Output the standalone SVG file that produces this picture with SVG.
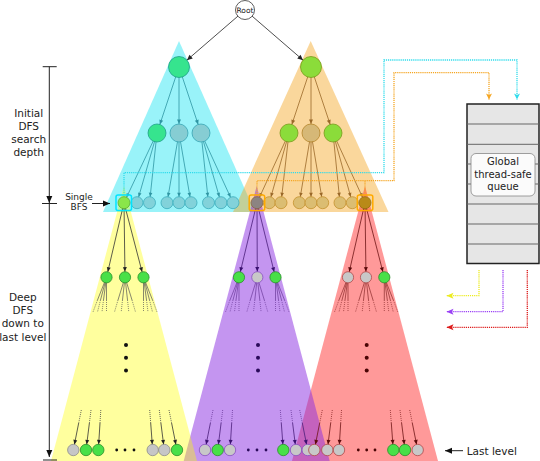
<svg xmlns="http://www.w3.org/2000/svg" width="540" height="461" viewBox="0 0 540 461">
<style>
text{font-family:"DejaVu Sans","Liberation Sans",sans-serif;fill:#222}
.lbl{font-size:10.5px;text-anchor:middle}
.sm{font-size:9px;text-anchor:middle}
.q{font-size:10px;text-anchor:middle}
g line,g path{fill:none}
.e{stroke-width:0.8}
.ek{stroke:#222;marker-end:url(#mK)}
.et{stroke:#2f95a3}
.et9{marker-end:url(#mT9)}
.et6{marker-end:url(#mT6)}
.eb{stroke:#9a6828}
.eb9{marker-end:url(#mB9)}
.eb6{marker-end:url(#mB6)}
.ey{stroke:#333;marker-end:url(#mY)}
.ep{stroke:#4a1e7a;marker-end:url(#mP)}
.er{stroke:#6e1515;marker-end:url(#mR)}
.fy{stroke:#555;stroke-width:0.7}
.fp{stroke:#6a3a9a;stroke-width:0.7}
.fr{stroke:#8a2a2a;stroke-width:0.7}
.dt{stroke-dasharray:1 1}
.dy{stroke:#444;stroke-width:0.8;stroke-dasharray:1 1}
.dp{stroke:#6a3a9a;stroke-width:0.8;stroke-dasharray:1 1}
.dr{stroke:#8a2a2a;stroke-width:0.8;stroke-dasharray:1 1}
.cn{stroke-width:1.3;stroke-dasharray:1.2 0.9}
circle{stroke-width:0.8}
.root{fill:#fff;stroke:#333}
.c1{fill:#36e48e;stroke:#1e9f88}
.c2{fill:#86cdd3;stroke:#38a5b4}
.o1{fill:#8bdc3a;stroke:#789a1c}
.o2{fill:#d6b877;stroke:#b4852c}
.c3{fill:#82d2da;stroke:#3cadbd}
.c3g{fill:#8ae64a;stroke:#5aae2e}
.o3{fill:#dbbd72;stroke:#c4922e}
.o3p{fill:#8c8482;stroke:#8a6440}
.o3d{fill:#b98a18;stroke:#956e0e}
.g{fill:#48e048;stroke:#2b8e2b}
.gy{fill:#c6c6c6;stroke:#8c8c8c}
.gp{fill:#c8c8c8;stroke:#8850c0}
.gr{fill:#c8c8c8;stroke:#b04a4a}
.sq{fill:none;stroke-width:1.5}
.tick{stroke:#222;stroke-width:1}
</style>
<defs>
<marker id="mK" markerUnits="userSpaceOnUse" orient="auto" overflow="visible" refX="16" refY="0" markerWidth="6" markerHeight="6"><path d="M0,-2.5L5.5,0L0,2.5z" fill="#222"/></marker>
<marker id="mT9" markerUnits="userSpaceOnUse" orient="auto" overflow="visible" refX="13.5" refY="0" markerWidth="5" markerHeight="5"><path d="M0,-2L4.5,0L0,2z" fill="#2f95a3"/></marker>
<marker id="mB9" markerUnits="userSpaceOnUse" orient="auto" overflow="visible" refX="13.5" refY="0" markerWidth="5" markerHeight="5"><path d="M0,-2L4.5,0L0,2z" fill="#9a6828"/></marker>
<marker id="mT6" markerUnits="userSpaceOnUse" orient="auto" overflow="visible" refX="10" refY="0" markerWidth="5" markerHeight="5"><path d="M0,-1.8L4,0L0,1.8z" fill="#2f95a3"/></marker>
<marker id="mB6" markerUnits="userSpaceOnUse" orient="auto" overflow="visible" refX="10" refY="0" markerWidth="5" markerHeight="5"><path d="M0,-1.8L4,0L0,1.8z" fill="#9a6828"/></marker>
<marker id="mY" markerUnits="userSpaceOnUse" orient="auto" overflow="visible" refX="10.2" refY="0" markerWidth="5" markerHeight="5"><path d="M0,-2L4.5,0L0,2z" fill="#222"/></marker>
<marker id="mP" markerUnits="userSpaceOnUse" orient="auto" overflow="visible" refX="10.2" refY="0" markerWidth="5" markerHeight="5"><path d="M0,-2L4.5,0L0,2z" fill="#3a1070"/></marker>
<marker id="mR" markerUnits="userSpaceOnUse" orient="auto" overflow="visible" refX="10.2" refY="0" markerWidth="5" markerHeight="5"><path d="M0,-2L4.5,0L0,2z" fill="#5a0a0a"/></marker>
<marker id="mS" markerUnits="userSpaceOnUse" orient="auto" overflow="visible" refX="7" refY="0" markerWidth="7" markerHeight="7"><path d="M0,-3L7,0L0,3z" fill="#111"/></marker>
<marker id="mCy" markerUnits="userSpaceOnUse" orient="auto" overflow="visible" refX="6" refY="0" markerWidth="7" markerHeight="7"><path d="M0,-3L6,0L0,3L1.5,0z" fill="#30dcec"/></marker>
<marker id="mOr" markerUnits="userSpaceOnUse" orient="auto" overflow="visible" refX="6" refY="0" markerWidth="7" markerHeight="7"><path d="M0,-3L6,0L0,3L1.5,0z" fill="#f5a623"/></marker>
<marker id="mYe" markerUnits="userSpaceOnUse" orient="auto" overflow="visible" refX="7" refY="0" markerWidth="7" markerHeight="7"><path d="M0,-3L7,0L0,3L1.5,0z" fill="#ecec20"/></marker>
<marker id="mPu" markerUnits="userSpaceOnUse" orient="auto" overflow="visible" refX="7" refY="0" markerWidth="7" markerHeight="7"><path d="M0,-3L7,0L0,3L1.5,0z" fill="#9a40f5"/></marker>
<marker id="mRe" markerUnits="userSpaceOnUse" orient="auto" overflow="visible" refX="7" refY="0" markerWidth="7" markerHeight="7"><path d="M0,-3L7,0L0,3L1.5,0z" fill="#dd1a1a"/></marker>
</defs>

<g id="regions">
<polygon points="179,41 103,212 255,212" fill="#00e0f0" fill-opacity="0.4"/>
<polygon points="310.7,41 233,212 388.5,212" fill="#f5a623" fill-opacity="0.45"/>
<polygon points="365,186 292,461 438,461" fill="#ff3333" fill-opacity="0.5"/>
<polygon points="256.7,186 183.7,461 329.7,461" fill="#8a2be2" fill-opacity="0.5"/>
<polygon points="124,186 51,461 197,461" fill="#ffff00" fill-opacity="0.38"/>
</g>

<g id="scale">
<line class="tick" x1="49.3" y1="66.7" x2="49.3" y2="203" marker-end="url(#mS)"/>
<line class="tick" x1="42.7" y1="66.7" x2="56.7" y2="66.7"/>
<line class="tick" x1="42" y1="203.5" x2="57" y2="203.5"/>
<line class="tick" x1="49.3" y1="203.5" x2="49.3" y2="457" marker-end="url(#mS)"/>
<line class="tick" x1="43" y1="460" x2="57" y2="460"/>
<line class="tick" x1="92" y1="203.5" x2="110" y2="203.5" marker-end="url(#mS)"/>
<line class="tick" x1="463" y1="450.7" x2="445" y2="450.7" marker-end="url(#mS)"/>
</g>

<g id="labels">
<text class="lbl" x="28.7" y="116.5">Initial</text>
<text class="lbl" x="28.7" y="129.8">DFS</text>
<text class="lbl" x="28.7" y="143.1">search</text>
<text class="lbl" x="28.7" y="156.4">depth</text>
<text class="sm" x="79" y="200">Single</text>
<text class="sm" x="79" y="210.3">BFS</text>
<text class="lbl" x="22.8" y="301">Deep</text>
<text class="lbl" x="22.8" y="314.2">DFS</text>
<text class="lbl" x="22.8" y="327.4">down to</text>
<text class="lbl" x="22.8" y="340.6">last level</text>
<text x="466.7" y="454.5" style="font-size:10.5px">Last level</text>
</g>

<g id="connectors">
<line class="e ek" x1="245" y1="10" x2="179" y2="67"/>
<line class="e ek" x1="245" y1="10" x2="311" y2="67"/>
<line class="e et et9" x1="179" y1="67" x2="157" y2="133"/>
<line class="e et et9" x1="179" y1="67" x2="179" y2="133"/>
<line class="e et et9" x1="179" y1="67" x2="201" y2="133"/>
<line class="e eb eb9" x1="311" y1="67" x2="289" y2="133"/>
<line class="e eb eb9" x1="311" y1="67" x2="311" y2="133"/>
<line class="e eb eb9" x1="311" y1="67" x2="333" y2="133"/>
<line class="e et et6" x1="157" y1="133" x2="124" y2="202.7"/>
<line class="e et et6" x1="157" y1="133" x2="137" y2="202.7"/>
<line class="e et et6" x1="157" y1="133" x2="149.5" y2="202.7"/>
<line class="e et et6" x1="179" y1="133" x2="167" y2="202.7"/>
<line class="e et et6" x1="179" y1="133" x2="179" y2="202.7"/>
<line class="e et et6" x1="179" y1="133" x2="191" y2="202.7"/>
<line class="e et et6" x1="201" y1="133" x2="208.5" y2="202.7"/>
<line class="e et et6" x1="201" y1="133" x2="221" y2="202.7"/>
<line class="e et et6" x1="201" y1="133" x2="233" y2="202.7"/>
<line class="e eb eb6" x1="289" y1="133" x2="257" y2="202.7"/>
<line class="e eb eb6" x1="289" y1="133" x2="269.3" y2="202.7"/>
<line class="e eb eb6" x1="289" y1="133" x2="281" y2="202.7"/>
<line class="e eb eb6" x1="311" y1="133" x2="299.3" y2="202.7"/>
<line class="e eb eb6" x1="311" y1="133" x2="311" y2="202.7"/>
<line class="e eb eb6" x1="311" y1="133" x2="322.7" y2="202.7"/>
<line class="e eb eb6" x1="333" y1="133" x2="340" y2="202.7"/>
<line class="e eb eb6" x1="333" y1="133" x2="352.3" y2="202.7"/>
<line class="e eb eb6" x1="333" y1="133" x2="365" y2="202.7"/>

<line class="e ey" x1="124" y1="202.7" x2="106.5" y2="277.3"/>
<line class="e ey" x1="124" y1="202.7" x2="125" y2="277.3"/>
<line class="e ey" x1="124" y1="202.7" x2="143.5" y2="277.3"/>
<line class="e ep" x1="257" y1="202.7" x2="239" y2="277.3"/>
<line class="e ep" x1="257" y1="202.7" x2="257.3" y2="277.3"/>
<line class="e ep" x1="257" y1="202.7" x2="275.5" y2="277.3"/>
<line class="e er" x1="365" y1="202.7" x2="348" y2="277.3"/>
<line class="e er" x1="365" y1="202.7" x2="366" y2="277.3"/>
<line class="e er" x1="365" y1="202.7" x2="384.3" y2="277.3"/>

<path class="fy" d="M106.5,277.3L97.5,300M106.5,277.3L100.5,300M106.5,277.3L103.5,300M106.5,277.3L106.5,300M125,277.3L118,300M125,277.3L122.5,300M125,277.3L127.5,300M125,277.3L132,300M143.5,277.3L143.5,300M143.5,277.3L146.5,300M143.5,277.3L149.5,300M143.5,277.3L152.5,300"/>
<path class="fy dt" d="M97.5,300L93,312M100.5,300L97.5,312M103.5,300L102,312M106.5,300L106.5,312M118,300L114.5,312M122.5,300L121.2,312M127.5,300L128.8,312M132,300L135.5,312M143.5,300L143.5,312M146.5,300L148,312M149.5,300L152.5,312M152.5,300L157,312"/>
<path class="fp" d="M239,277.3L230,300M239,277.3L233,300M239,277.3L236,300M239,277.3L239,300M257.3,277.3L250.3,300M257.3,277.3L254.8,300M257.3,277.3L259.8,300M257.3,277.3L264.3,300M275.5,277.3L275.5,300M275.5,277.3L278.5,300M275.5,277.3L281.5,300M275.5,277.3L284.5,300"/>
<path class="fp dt" d="M230,300L225.5,312M233,300L230,312M236,300L234.5,312M239,300L239,312M250.3,300L246.8,312M254.8,300L253.5,312M259.8,300L261.1,312M264.3,300L267.8,312M275.5,300L275.5,312M278.5,300L280,312M281.5,300L284.5,312M284.5,300L289,312"/>
<path class="fr" d="M348,277.3L339,300M348,277.3L342,300M348,277.3L345,300M348,277.3L348,300M366,277.3L359,300M366,277.3L363.5,300M366,277.3L368.5,300M366,277.3L373,300M384.3,277.3L384.3,300M384.3,277.3L387.3,300M384.3,277.3L390.3,300M384.3,277.3L393.3,300"/>
<path class="fr dt" d="M339,300L334.5,312M342,300L339,312M345,300L343.5,312M348,300L348,312M359,300L355.5,312M363.5,300L362.2,312M368.5,300L369.8,312M373,300L376.5,312M384.3,300L384.3,312M387.3,300L388.8,312M390.3,300L393.3,312M393.3,300L397.8,312"/>

<path class="dy" d="M81.3,410L78.7,423M91,410L89.4,423M100.8,410L100,423M149.7,410L150.7,423M159.3,410L160.9,423M169,410L171.6,423"/>
<line class="e ey" x1="78.7" y1="423" x2="73.3" y2="450"/>
<line class="e ey" x1="89.4" y1="423" x2="86" y2="450"/>
<line class="e ey" x1="100" y1="423" x2="98.3" y2="450"/>
<line class="e ey" x1="150.7" y1="423" x2="152.7" y2="450"/>
<line class="e ey" x1="160.9" y1="423" x2="164.3" y2="450"/>
<line class="e ey" x1="171.6" y1="423" x2="177" y2="450"/>
<path class="dp" d="M213,410L210.4,423M222.7,410L221.1,423M232.5,410L231.7,423M280.3,410L281.3,423M291,410L292.6,423M299.7,410L302.3,423"/>
<line class="e ep" x1="210.4" y1="423" x2="205" y2="450"/>
<line class="e ep" x1="221.1" y1="423" x2="217.7" y2="450"/>
<line class="e ep" x1="231.7" y1="423" x2="230" y2="450"/>
<line class="e ep" x1="281.3" y1="423" x2="283.3" y2="450"/>
<line class="e ep" x1="292.6" y1="423" x2="296" y2="450"/>
<line class="e ep" x1="302.3" y1="423" x2="307.7" y2="450"/>
<path class="dr" d="M322.3,410L319.7,423M332.3,410L330.7,423M341.5,410L340.7,423M390.3,410L391.3,423M400,410L401.6,423M409.7,410L412.3,423"/>
<line class="e er" x1="319.7" y1="423" x2="314.3" y2="450"/>
<line class="e er" x1="330.7" y1="423" x2="327.3" y2="450"/>
<line class="e er" x1="340.7" y1="423" x2="339" y2="450"/>
<line class="e er" x1="391.3" y1="423" x2="393.3" y2="450"/>
<line class="e er" x1="401.6" y1="423" x2="405" y2="450"/>
<line class="e er" x1="412.3" y1="423" x2="417.7" y2="450"/>
</g>

<g id="ellipses">
<g fill="#111"><circle cx="126" cy="345" r="2"/><circle cx="126" cy="357.7" r="2"/><circle cx="126" cy="370.5" r="2"/>
<circle cx="116.7" cy="450" r="1.4"/><circle cx="125" cy="450" r="1.4"/><circle cx="134" cy="450" r="1.4"/></g>
<g fill="#2a0a5a"><circle cx="258" cy="345" r="2"/><circle cx="258" cy="357.7" r="2"/><circle cx="258" cy="370.5" r="2"/>
<circle cx="248.3" cy="450" r="1.4"/><circle cx="257" cy="450" r="1.4"/><circle cx="266" cy="450" r="1.4"/></g>
<g fill="#4a0505"><circle cx="366.7" cy="345" r="2"/><circle cx="366.7" cy="357.7" r="2"/><circle cx="366.7" cy="370.5" r="2"/>
<circle cx="358.3" cy="450" r="1.4"/><circle cx="366.7" cy="450" r="1.4"/><circle cx="375" cy="450" r="1.4"/></g>
</g>

<g id="nodes">
<g id="root"><circle class="root" cx="245" cy="10" r="9.5"/><text x="245" y="12.7" style="font-size:7.5px;text-anchor:middle">Root</text></g>
<g id="a"><circle class="c1" cx="179" cy="67" r="10.5"/></g>
<g id="b"><circle class="o1" cx="311" cy="67" r="10.5"/></g>
<g id="a1"><circle class="c1" cx="157" cy="133" r="9"/></g>
<g id="a2"><circle class="c2" cx="179" cy="133" r="9"/></g>
<g id="a3"><circle class="c2" cx="201" cy="133" r="9"/></g>
<g id="b1"><circle class="o1" cx="289" cy="133" r="9"/></g>
<g id="b2"><circle class="o2" cx="311" cy="133" r="9"/></g>
<g id="b3"><circle class="o1" cx="333" cy="133" r="9"/></g>
<g id="a11"><circle class="c3g" cx="124" cy="202.7" r="6"/></g>
<g id="a12"><circle class="c3" cx="137" cy="202.7" r="6"/></g>
<g id="a13"><circle class="c3" cx="149.5" cy="202.7" r="6"/></g>
<g id="a21"><circle class="c3" cx="167" cy="202.7" r="6"/></g>
<g id="a22"><circle class="c3" cx="179" cy="202.7" r="6"/></g>
<g id="a23"><circle class="c3" cx="191" cy="202.7" r="6"/></g>
<g id="a31"><circle class="c3" cx="208.5" cy="202.7" r="6"/></g>
<g id="a32"><circle class="c3" cx="221" cy="202.7" r="6"/></g>
<g id="a33"><circle class="c3" cx="233" cy="202.7" r="6"/></g>
<g id="b11"><circle class="o3p" cx="257" cy="202.7" r="6"/></g>
<g id="b12"><circle class="o3" cx="269.3" cy="202.7" r="6"/></g>
<g id="b13"><circle class="o3" cx="281" cy="202.7" r="6"/></g>
<g id="b21"><circle class="o3" cx="299.3" cy="202.7" r="6"/></g>
<g id="b22"><circle class="o3" cx="311" cy="202.7" r="6"/></g>
<g id="b23"><circle class="o3" cx="322.7" cy="202.7" r="6"/></g>
<g id="b31"><circle class="o3" cx="340" cy="202.7" r="6"/></g>
<g id="b32"><circle class="o3" cx="352.3" cy="202.7" r="6"/></g>
<g id="b33"><circle class="o3d" cx="365" cy="202.7" r="6"/></g>

<g id="y1"><circle class="g" cx="106.5" cy="277.3" r="5.6"/></g>
<g id="y2"><circle class="g" cx="125" cy="277.3" r="5.6"/></g>
<g id="y3"><circle class="g" cx="143.5" cy="277.3" r="5.6"/></g>
<g id="p1"><circle class="g" cx="239" cy="277.3" r="5.6"/></g>
<g id="p2"><circle class="gp" cx="257.3" cy="277.3" r="5.6"/></g>
<g id="p3"><circle class="g" cx="275.5" cy="277.3" r="5.6"/></g>
<g id="r1"><circle class="gr" cx="348" cy="277.3" r="5.6"/></g>
<g id="r2"><circle class="gr" cx="366" cy="277.3" r="5.6"/></g>
<g id="r3"><circle class="g" cx="384.3" cy="277.3" r="5.6"/></g>

<g id="yl1"><circle class="gy" cx="73.3" cy="450" r="5.7"/></g>
<g id="yl2"><circle class="g" cx="86" cy="450" r="5.7"/></g>
<g id="yl3"><circle class="g" cx="98.3" cy="450" r="5.7"/></g>
<g id="yl4"><circle class="gy" cx="152.7" cy="450" r="5.7"/></g>
<g id="yl5"><circle class="gy" cx="164.3" cy="450" r="5.7"/></g>
<g id="yl6"><circle class="g" cx="177" cy="450" r="5.7"/></g>
<g id="pl1"><circle class="gp" cx="205" cy="450" r="5.7"/></g>
<g id="pl2"><circle class="g" cx="217.7" cy="450" r="5.7"/></g>
<g id="pl3"><circle class="gp" cx="230" cy="450" r="5.7"/></g>
<g id="pl4"><circle class="g" cx="283.3" cy="450" r="5.7"/></g>
<g id="pl5"><circle class="gp" cx="296" cy="450" r="5.7"/></g>
<g id="pl6"><circle class="gp" cx="307.7" cy="450" r="5.7"/></g>
<g id="rl1"><circle class="gr" cx="314.3" cy="450" r="5.7"/></g>
<g id="rl2"><circle class="gr" cx="327.3" cy="450" r="5.7"/></g>
<g id="rl3"><circle class="gr" cx="339" cy="450" r="5.7"/></g>
<g id="rl4"><circle class="g" cx="393.3" cy="450" r="5.7"/></g>
<g id="rl5"><circle class="g" cx="405" cy="450" r="5.7"/></g>
<g id="rl6"><circle class="gr" cx="417.7" cy="450" r="5.7"/></g>
</g>

<g id="queue">
<rect x="467" y="104" width="72" height="159.5" fill="#e6e6e6" stroke="#222" stroke-width="1.5"/>
<path d="M467,124H539M467,144.3H539M467,164H539M467,184H539M467,204H539M467,224H539M467,244H539" stroke="#666" stroke-width="1"/>
<rect x="471" y="153.5" width="64" height="42.5" rx="5" fill="#fbfbfb" stroke="#888" stroke-width="0.8"/>
<text class="q" x="503" y="164.5">Global</text>
<text class="q" x="503" y="177.5">thread-safe</text>
<text class="q" x="503" y="190.3">queue</text>
</g>

<g id="flows">
<rect class="sq" x="116" y="195" width="15.5" height="15.5" rx="2" stroke="#00e5ff"/>
<rect class="sq" x="249.2" y="195" width="15.5" height="15.5" rx="2" stroke="#ffaa00"/>
<rect class="sq" x="357.3" y="195" width="15.5" height="15.5" rx="2" stroke="#ffaa00"/>
<path class="cn" d="M124,195V172.7H384V60H517V99.5" stroke="#30dcec" marker-end="url(#mCy)"/>
<path class="cn" d="M257,195V180.7H394V72.7H489V99.5" stroke="#f5a623" marker-end="url(#mOr)"/>
<path class="cn" d="M365,195V180.7" stroke="#f5a623"/>
<path class="cn" d="M479,270V295.7H446.5" stroke="#ecec20" marker-end="url(#mYe)"/>
<path class="cn" d="M503,270V311.7H446.5" stroke="#9a40f5" marker-end="url(#mPu)"/>
<path class="cn" d="M527.3,270V327.3H446.5" stroke="#dd1a1a" marker-end="url(#mRe)"/>
</g>
</svg>
